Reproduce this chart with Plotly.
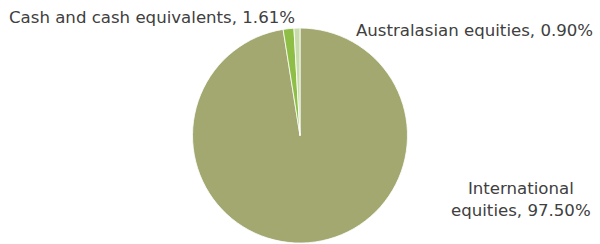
import plotly.graph_objects as go

labels = ["International equities", "Cash and cash equivalents", "Australasian equities"]
values = [97.50, 1.61, 0.90]
colors = ["#A2A86F", "#8FBE46", "#C8DCAB"]

fig = go.Figure(go.Pie(
    labels=labels, values=values, sort=False, direction="clockwise", rotation=0,
    marker=dict(colors=colors, line=dict(color="white", width=0.8)),
    textinfo="none", hoverinfo="label+percent", showlegend=False,
    domain=dict(x=[0.1, 0.9], y=[0.004, 0.885]),
))

font = dict(family="DejaVu Sans, sans-serif", size=16.6, color="#404040")
ann = [
    dict(text=f"{labels[1]}, {values[1]:.2f}%", x=297, y=244 - 18, xanchor="right"),
    dict(text=f"{labels[2]}, {values[2]:.2f}%", x=354, y=244 - 31, xanchor="left"),
    dict(text=f"International<br>equities, {values[0]:.2f}%", x=521, y=244 - 199, xanchor="center"),
]
for a in ann:
    fig.add_annotation(text=a["text"], x=a["x"] / 600, y=a["y"] / 244, xref="paper", yref="paper",
                       xanchor=a["xanchor"], yanchor="middle", showarrow=False, font=font, align="center")

fig.update_layout(width=600, height=244, margin=dict(l=0, r=0, t=0, b=0),
                  paper_bgcolor="white", plot_bgcolor="white")
fig.write_html("out.html", config={"displayModeBar": False},
               post_script="document.body.style.margin='0';")
